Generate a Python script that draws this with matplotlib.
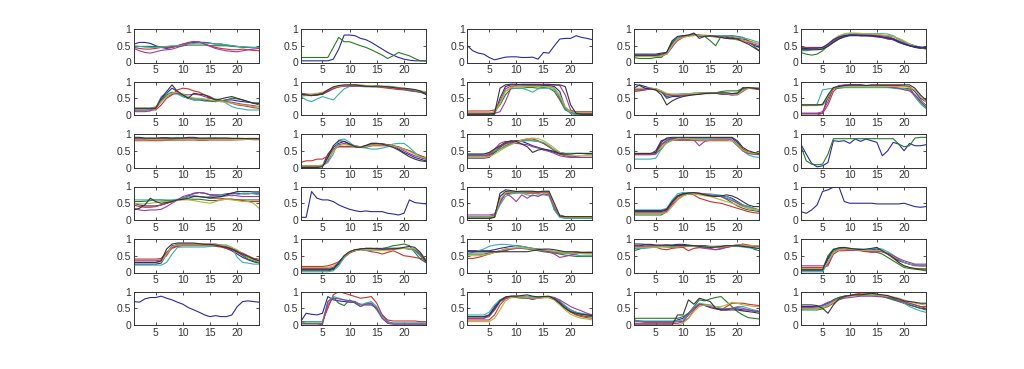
import matplotlib
matplotlib.use('Agg')
import matplotlib.pyplot as plt

x = list(range(1, 25))

# matlab default colour order
colors = ['#2a2a9a', '#2a7a2a', '#c83232', '#3aaeb0', '#a03ca0', '#b4b43c', '#353535']

p11 = [
    [0.55,0.6,0.6,0.57,0.5,0.45,0.42,0.45,0.5,0.55,0.57,0.6,0.6,0.6,0.58,0.55,0.55,0.52,0.5,0.48,0.46,0.45,0.44,0.45],
    [0.48,0.48,0.48,0.48,0.48,0.47,0.47,0.48,0.48,0.5,0.52,0.52,0.52,0.52,0.5,0.5,0.5,0.5,0.48,0.47,0.46,0.45,0.45,0.45],
    [0.45,0.42,0.4,0.4,0.42,0.45,0.45,0.45,0.5,0.55,0.6,0.63,0.6,0.55,0.5,0.45,0.42,0.4,0.38,0.38,0.4,0.38,0.36,0.35],
    [0.5,0.48,0.46,0.45,0.45,0.46,0.48,0.5,0.5,0.52,0.55,0.57,0.58,0.58,0.57,0.55,0.55,0.53,0.5,0.48,0.47,0.46,0.45,0.45],
    [0.42,0.35,0.3,0.28,0.32,0.36,0.38,0.4,0.45,0.5,0.58,0.62,0.62,0.55,0.48,0.42,0.38,0.35,0.33,0.32,0.35,0.38,0.4,0.42],
]
p12 = [
    [0.05,0.05,0.05,0.05,0.05,0.05,0.1,0.4,0.82,0.82,0.8,0.72,0.68,0.6,0.5,0.4,0.3,0.22,0.15,0.1,0.07,0.05,0.05,0.05],
    [0.15,0.15,0.15,0.15,0.15,0.15,0.45,0.75,0.62,0.62,0.56,0.5,0.45,0.38,0.3,0.22,0.12,0.2,0.3,0.25,0.2,0.12,0.05,0.05],
]
p13 = [
    [0.5,0.35,0.28,0.25,0.15,0.08,0.12,0.16,0.17,0.17,0.15,0.15,0.16,0.1,0.3,0.28,0.5,0.7,0.72,0.72,0.8,0.75,0.72,0.68],
]
p14 = [
    [0.25,0.25,0.25,0.25,0.25,0.28,0.3,0.6,0.75,0.78,0.8,0.85,0.82,0.8,0.78,0.78,0.76,0.75,0.72,0.7,0.65,0.6,0.52,0.45],
    [0.15,0.12,0.12,0.12,0.15,0.15,0.3,0.55,0.7,0.78,0.8,0.85,0.78,0.78,0.65,0.5,0.78,0.8,0.8,0.78,0.75,0.65,0.5,0.35],
    [0.2,0.2,0.2,0.2,0.2,0.2,0.25,0.5,0.65,0.75,0.8,0.82,0.8,0.8,0.8,0.8,0.8,0.78,0.75,0.72,0.7,0.65,0.6,0.55],
    [0.2,0.2,0.18,0.18,0.18,0.2,0.3,0.5,0.75,0.8,0.82,0.82,0.8,0.8,0.8,0.8,0.8,0.8,0.78,0.76,0.74,0.7,0.65,0.6],
    [0.22,0.2,0.2,0.2,0.2,0.22,0.25,0.45,0.7,0.78,0.8,0.82,0.8,0.78,0.78,0.76,0.75,0.72,0.7,0.68,0.65,0.6,0.55,0.5],
    [0.18,0.18,0.18,0.18,0.18,0.2,0.25,0.5,0.7,0.75,0.78,0.8,0.82,0.82,0.8,0.78,0.75,0.72,0.7,0.68,0.65,0.62,0.6,0.55],
    [0.22,0.22,0.22,0.22,0.22,0.25,0.3,0.65,0.78,0.8,0.82,0.88,0.72,0.78,0.8,0.78,0.75,0.72,0.72,0.7,0.62,0.55,0.45,0.35],
]
p15 = [
    [0.4,0.4,0.4,0.4,0.42,0.5,0.62,0.72,0.8,0.82,0.82,0.82,0.82,0.8,0.78,0.75,0.7,0.68,0.6,0.55,0.5,0.45,0.42,0.42],
    [0.3,0.25,0.22,0.25,0.35,0.5,0.65,0.75,0.8,0.82,0.83,0.82,0.82,0.82,0.82,0.8,0.8,0.78,0.7,0.62,0.55,0.5,0.45,0.4],
    [0.45,0.45,0.45,0.45,0.45,0.5,0.6,0.7,0.78,0.82,0.85,0.85,0.85,0.83,0.82,0.8,0.78,0.72,0.65,0.58,0.52,0.48,0.45,0.45],
    [0.35,0.35,0.38,0.4,0.42,0.55,0.68,0.78,0.84,0.86,0.86,0.86,0.86,0.86,0.86,0.86,0.85,0.8,0.7,0.62,0.55,0.5,0.45,0.42],
    [0.42,0.42,0.42,0.42,0.45,0.52,0.62,0.72,0.78,0.82,0.82,0.8,0.8,0.78,0.76,0.74,0.72,0.68,0.62,0.58,0.52,0.48,0.45,0.42],
    [0.4,0.4,0.4,0.4,0.45,0.55,0.7,0.8,0.86,0.88,0.88,0.87,0.86,0.85,0.84,0.82,0.8,0.78,0.72,0.65,0.55,0.5,0.45,0.4],
    [0.38,0.38,0.38,0.38,0.4,0.48,0.6,0.7,0.76,0.8,0.8,0.8,0.8,0.8,0.78,0.76,0.74,0.7,0.62,0.55,0.5,0.46,0.44,0.42],
    [0.42,0.42,0.43,0.43,0.45,0.55,0.68,0.76,0.8,0.82,0.82,0.8,0.8,0.8,0.78,0.76,0.73,0.7,0.62,0.55,0.5,0.48,0.46,0.45],
]

p21 = [
    [0.2,0.2,0.2,0.2,0.22,0.45,0.65,0.8,0.7,0.6,0.5,0.45,0.45,0.42,0.42,0.4,0.42,0.45,0.45,0.42,0.4,0.38,0.36,0.35],
    [0.15,0.15,0.15,0.18,0.2,0.4,0.6,0.68,0.65,0.55,0.5,0.5,0.48,0.45,0.42,0.4,0.42,0.45,0.5,0.48,0.45,0.4,0.35,0.3],
    [0.15,0.15,0.15,0.15,0.15,0.3,0.5,0.6,0.75,0.8,0.78,0.72,0.68,0.6,0.55,0.45,0.42,0.4,0.35,0.3,0.28,0.25,0.22,0.2],
    [0.15,0.15,0.15,0.15,0.2,0.55,0.65,0.65,0.62,0.55,0.5,0.45,0.45,0.45,0.5,0.48,0.45,0.35,0.25,0.2,0.18,0.15,0.15,0.15],
    [0.1,0.1,0.1,0.12,0.25,0.4,0.55,0.62,0.65,0.62,0.6,0.62,0.6,0.55,0.5,0.45,0.4,0.4,0.38,0.35,0.32,0.3,0.28,0.25],
    [0.18,0.18,0.18,0.2,0.25,0.4,0.55,0.65,0.68,0.62,0.55,0.5,0.5,0.48,0.45,0.42,0.4,0.38,0.35,0.32,0.3,0.28,0.25,0.25],
    [0.2,0.2,0.2,0.2,0.2,0.5,0.7,0.9,0.7,0.6,0.5,0.65,0.62,0.6,0.52,0.45,0.48,0.52,0.55,0.5,0.45,0.4,0.35,0.35],
]
p22 = [
    [0.62,0.6,0.58,0.6,0.62,0.7,0.8,0.85,0.88,0.88,0.88,0.87,0.86,0.85,0.85,0.84,0.83,0.82,0.8,0.78,0.76,0.72,0.68,0.65],
    [0.6,0.58,0.58,0.6,0.62,0.72,0.82,0.86,0.88,0.88,0.87,0.86,0.86,0.86,0.86,0.85,0.85,0.82,0.8,0.76,0.72,0.7,0.68,0.62],
    [0.65,0.62,0.6,0.62,0.65,0.7,0.78,0.84,0.86,0.88,0.9,0.88,0.86,0.85,0.84,0.82,0.8,0.78,0.76,0.75,0.75,0.72,0.7,0.68],
    [0.55,0.45,0.4,0.48,0.55,0.5,0.45,0.62,0.78,0.85,0.86,0.85,0.84,0.84,0.84,0.85,0.86,0.85,0.82,0.78,0.75,0.72,0.7,0.68],
    [0.65,0.62,0.62,0.62,0.64,0.72,0.8,0.84,0.86,0.86,0.86,0.86,0.86,0.86,0.86,0.85,0.84,0.82,0.8,0.78,0.75,0.72,0.7,0.66],
    [0.55,0.58,0.62,0.65,0.68,0.75,0.82,0.86,0.88,0.9,0.9,0.9,0.88,0.88,0.86,0.85,0.84,0.82,0.8,0.8,0.78,0.75,0.72,0.7],
    [0.62,0.6,0.58,0.6,0.64,0.75,0.84,0.88,0.9,0.9,0.9,0.88,0.86,0.85,0.86,0.86,0.84,0.82,0.8,0.8,0.78,0.76,0.72,0.62],
]
p23 = [
    [0.0,0.0,0.0,0.0,0.0,0.02,0.5,0.85,0.9,0.9,0.9,0.9,0.9,0.9,0.88,0.88,0.85,0.7,0.2,0.05,0.02,0.02,0.02,0.02],
    [0.05,0.05,0.05,0.05,0.05,0.1,0.3,0.6,0.78,0.8,0.8,0.82,0.82,0.8,0.82,0.8,0.7,0.45,0.15,0.08,0.05,0.05,0.05,0.05],
    [0.12,0.12,0.12,0.12,0.12,0.15,0.4,0.78,0.86,0.86,0.85,0.86,0.86,0.86,0.86,0.85,0.8,0.5,0.2,0.12,0.1,0.1,0.1,0.1],
    [0.02,0.02,0.02,0.02,0.02,0.05,0.35,0.72,0.8,0.8,0.8,0.75,0.68,0.78,0.8,0.8,0.75,0.55,0.2,0.05,0.02,0.02,0.02,0.02],
    [0.05,0.05,0.05,0.05,0.05,0.05,0.1,0.4,0.8,0.9,0.92,0.92,0.92,0.92,0.92,0.92,0.9,0.88,0.6,0.15,0.08,0.05,0.05,0.05],
    [0.08,0.08,0.08,0.08,0.08,0.08,0.35,0.7,0.82,0.85,0.85,0.85,0.85,0.86,0.85,0.85,0.8,0.6,0.25,0.1,0.08,0.08,0.08,0.08],
    [0.02,0.02,0.02,0.02,0.02,0.05,0.8,0.9,0.92,0.92,0.9,0.9,0.9,0.9,0.9,0.9,0.9,0.9,0.85,0.3,0.05,0.02,0.02,0.02],
]
p24 = [
    [0.8,0.9,0.85,0.8,0.78,0.7,0.5,0.55,0.55,0.58,0.6,0.62,0.65,0.65,0.65,0.65,0.62,0.62,0.6,0.62,0.82,0.82,0.8,0.8],
    [0.75,0.75,0.78,0.78,0.75,0.68,0.55,0.58,0.6,0.62,0.62,0.65,0.65,0.66,0.66,0.66,0.7,0.72,0.72,0.72,0.8,0.82,0.8,0.78],
    [0.7,0.72,0.75,0.78,0.75,0.7,0.6,0.6,0.6,0.6,0.62,0.62,0.62,0.64,0.64,0.65,0.65,0.64,0.62,0.62,0.75,0.8,0.78,0.76],
    [0.78,0.78,0.78,0.8,0.78,0.72,0.6,0.62,0.62,0.64,0.64,0.65,0.66,0.66,0.65,0.65,0.66,0.65,0.64,0.66,0.8,0.82,0.82,0.8],
    [0.75,0.75,0.75,0.78,0.78,0.7,0.62,0.6,0.58,0.58,0.6,0.62,0.64,0.65,0.65,0.65,0.64,0.62,0.6,0.6,0.7,0.8,0.8,0.78],
    [0.8,0.8,0.8,0.8,0.78,0.72,0.65,0.62,0.62,0.62,0.63,0.64,0.65,0.65,0.65,0.65,0.65,0.64,0.62,0.62,0.72,0.8,0.8,0.78],
    [0.92,0.88,0.8,0.78,0.75,0.6,0.3,0.42,0.5,0.55,0.58,0.6,0.62,0.64,0.65,0.65,0.66,0.66,0.64,0.65,0.8,0.82,0.8,0.78],
]
p25 = [
    [0.05,0.05,0.05,0.05,0.05,0.55,0.8,0.82,0.84,0.85,0.85,0.86,0.86,0.86,0.86,0.86,0.86,0.86,0.86,0.86,0.85,0.7,0.5,0.4],
    [0.3,0.3,0.3,0.3,0.3,0.5,0.78,0.8,0.82,0.82,0.82,0.82,0.82,0.82,0.82,0.82,0.82,0.82,0.8,0.8,0.78,0.6,0.4,0.25],
    [0.0,0.0,0.0,0.0,0.05,0.3,0.7,0.85,0.88,0.88,0.88,0.88,0.88,0.88,0.88,0.88,0.88,0.88,0.88,0.86,0.85,0.55,0.35,0.2],
    [0.3,0.28,0.3,0.32,0.75,0.78,0.8,0.82,0.82,0.82,0.82,0.82,0.82,0.82,0.82,0.82,0.82,0.8,0.78,0.78,0.75,0.55,0.35,0.2],
    [0.05,0.05,0.05,0.05,0.1,0.4,0.8,0.88,0.9,0.9,0.9,0.9,0.88,0.86,0.85,0.85,0.84,0.82,0.8,0.75,0.72,0.6,0.45,0.3],
    [0.28,0.28,0.28,0.28,0.3,0.55,0.8,0.84,0.85,0.85,0.85,0.85,0.85,0.85,0.85,0.85,0.85,0.85,0.85,0.85,0.82,0.75,0.55,0.4],
    [0.3,0.3,0.3,0.3,0.32,0.6,0.82,0.85,0.88,0.9,0.9,0.9,0.88,0.9,0.9,0.9,0.9,0.9,0.9,0.9,0.9,0.8,0.6,0.45],
]

p31 = [
    [0.85,0.86,0.86,0.87,0.86,0.86,0.87,0.86,0.86,0.87,0.87,0.86,0.86,0.86,0.87,0.86,0.86,0.86,0.86,0.87,0.86,0.86,0.86,0.86],
    [0.82,0.82,0.83,0.82,0.82,0.84,0.83,0.84,0.83,0.83,0.84,0.84,0.83,0.83,0.84,0.84,0.85,0.84,0.84,0.83,0.84,0.84,0.84,0.84],
    [0.8,0.8,0.8,0.8,0.8,0.8,0.81,0.81,0.82,0.82,0.82,0.82,0.81,0.81,0.82,0.82,0.82,0.82,0.82,0.83,0.83,0.84,0.83,0.83],
    [0.88,0.88,0.87,0.86,0.86,0.85,0.86,0.88,0.89,0.88,0.86,0.85,0.85,0.86,0.87,0.88,0.86,0.84,0.85,0.86,0.85,0.85,0.85,0.85],
    [0.86,0.86,0.85,0.85,0.86,0.87,0.87,0.86,0.85,0.85,0.86,0.86,0.85,0.86,0.86,0.86,0.87,0.87,0.87,0.86,0.86,0.87,0.87,0.87],
    [0.82,0.82,0.82,0.83,0.83,0.83,0.82,0.82,0.83,0.84,0.84,0.83,0.83,0.83,0.84,0.84,0.84,0.83,0.83,0.84,0.84,0.84,0.84,0.84],
    [0.9,0.9,0.88,0.88,0.88,0.89,0.89,0.88,0.88,0.88,0.9,0.9,0.88,0.88,0.88,0.88,0.88,0.88,0.87,0.87,0.87,0.86,0.86,0.86],
]
p32 = [
    [0.02,0.02,0.02,0.02,0.05,0.4,0.6,0.72,0.78,0.7,0.65,0.62,0.65,0.72,0.72,0.7,0.68,0.65,0.55,0.45,0.38,0.3,0.25,0.2],
    [0.05,0.05,0.05,0.05,0.05,0.3,0.55,0.62,0.62,0.62,0.62,0.6,0.6,0.65,0.68,0.7,0.68,0.65,0.62,0.55,0.5,0.42,0.35,0.3],
    [0.15,0.2,0.2,0.25,0.25,0.35,0.55,0.62,0.62,0.62,0.62,0.6,0.62,0.65,0.65,0.65,0.65,0.62,0.6,0.55,0.5,0.42,0.35,0.28],
    [0.02,0.0,0.0,0.0,0.05,0.15,0.4,0.82,0.85,0.75,0.62,0.6,0.58,0.55,0.55,0.58,0.62,0.7,0.72,0.72,0.6,0.45,0.3,0.25],
    [0.05,0.05,0.05,0.05,0.05,0.2,0.5,0.68,0.72,0.68,0.62,0.6,0.62,0.68,0.7,0.7,0.68,0.65,0.6,0.5,0.42,0.35,0.3,0.25],
    [0.05,0.05,0.05,0.05,0.08,0.25,0.5,0.65,0.68,0.66,0.64,0.62,0.62,0.66,0.68,0.68,0.66,0.64,0.6,0.55,0.48,0.4,0.32,0.28],
    [0.0,0.0,0.0,0.0,0.02,0.3,0.65,0.8,0.78,0.7,0.62,0.6,0.66,0.72,0.72,0.7,0.65,0.6,0.52,0.42,0.32,0.25,0.2,0.18],
]
p33 = [
    [0.28,0.28,0.28,0.28,0.3,0.45,0.6,0.72,0.78,0.8,0.78,0.72,0.65,0.6,0.55,0.5,0.45,0.4,0.38,0.35,0.32,0.3,0.3,0.3],
    [0.35,0.35,0.35,0.35,0.38,0.45,0.55,0.65,0.72,0.78,0.8,0.82,0.8,0.78,0.72,0.62,0.52,0.45,0.42,0.42,0.42,0.42,0.4,0.4],
    [0.3,0.3,0.3,0.3,0.35,0.5,0.62,0.7,0.75,0.78,0.82,0.85,0.85,0.8,0.72,0.62,0.5,0.4,0.35,0.32,0.3,0.3,0.3,0.3],
    [0.4,0.4,0.4,0.4,0.42,0.5,0.55,0.62,0.7,0.75,0.78,0.8,0.8,0.78,0.75,0.65,0.52,0.45,0.42,0.42,0.42,0.42,0.42,0.42],
    [0.35,0.35,0.35,0.35,0.4,0.55,0.72,0.78,0.75,0.72,0.7,0.68,0.62,0.58,0.52,0.48,0.42,0.35,0.32,0.3,0.3,0.3,0.3,0.3],
    [0.3,0.3,0.3,0.3,0.32,0.4,0.5,0.6,0.68,0.75,0.82,0.86,0.88,0.86,0.8,0.7,0.58,0.45,0.38,0.35,0.35,0.35,0.35,0.35],
    [0.4,0.4,0.4,0.4,0.45,0.55,0.65,0.75,0.8,0.78,0.7,0.62,0.45,0.52,0.55,0.52,0.48,0.42,0.4,0.4,0.42,0.42,0.42,0.42],
]
p34 = [
    [0.4,0.4,0.4,0.4,0.5,0.8,0.85,0.86,0.86,0.88,0.88,0.88,0.88,0.88,0.88,0.88,0.88,0.88,0.88,0.75,0.55,0.45,0.42,0.4],
    [0.4,0.4,0.4,0.4,0.42,0.55,0.75,0.82,0.82,0.82,0.82,0.82,0.82,0.82,0.82,0.82,0.82,0.82,0.8,0.65,0.5,0.42,0.4,0.38],
    [0.4,0.4,0.4,0.4,0.42,0.7,0.8,0.82,0.82,0.82,0.82,0.82,0.8,0.8,0.8,0.8,0.8,0.8,0.8,0.7,0.55,0.45,0.42,0.42],
    [0.25,0.25,0.25,0.25,0.28,0.55,0.8,0.82,0.84,0.84,0.84,0.84,0.84,0.84,0.84,0.84,0.84,0.84,0.82,0.7,0.5,0.38,0.32,0.3],
    [0.38,0.38,0.38,0.38,0.4,0.65,0.82,0.85,0.85,0.85,0.84,0.82,0.65,0.78,0.82,0.84,0.84,0.84,0.82,0.68,0.5,0.42,0.4,0.4],
    [0.42,0.42,0.42,0.42,0.45,0.6,0.72,0.8,0.86,0.88,0.86,0.84,0.82,0.82,0.82,0.82,0.82,0.82,0.8,0.68,0.52,0.45,0.42,0.42],
    [0.42,0.42,0.42,0.42,0.45,0.75,0.88,0.9,0.9,0.9,0.9,0.9,0.9,0.9,0.9,0.9,0.9,0.9,0.9,0.8,0.6,0.5,0.45,0.42],
]
p35 = [
    [0.7,0.4,0.12,0.02,0.05,0.15,0.8,0.78,0.8,0.72,0.85,0.78,0.85,0.8,0.75,0.35,0.5,0.75,0.7,0.5,0.72,0.65,0.65,0.68],
    [0.65,0.2,0.1,0.08,0.1,0.4,0.86,0.86,0.86,0.86,0.86,0.86,0.86,0.86,0.86,0.86,0.86,0.86,0.7,0.62,0.65,0.88,0.9,0.9],
]

p41 = [
    [0.5,0.45,0.42,0.42,0.42,0.45,0.5,0.55,0.6,0.65,0.72,0.8,0.82,0.8,0.75,0.75,0.75,0.78,0.8,0.8,0.78,0.78,0.8,0.8],
    [0.55,0.55,0.56,0.58,0.6,0.6,0.58,0.58,0.6,0.62,0.62,0.62,0.62,0.6,0.58,0.58,0.6,0.62,0.62,0.6,0.6,0.6,0.6,0.6],
    [0.45,0.4,0.38,0.38,0.4,0.45,0.5,0.55,0.6,0.65,0.7,0.72,0.7,0.68,0.65,0.65,0.65,0.62,0.62,0.6,0.58,0.55,0.55,0.55],
    [0.6,0.6,0.6,0.6,0.6,0.6,0.6,0.6,0.62,0.65,0.7,0.72,0.7,0.68,0.7,0.72,0.75,0.75,0.72,0.75,0.8,0.8,0.78,0.75],
    [0.35,0.3,0.28,0.3,0.3,0.32,0.4,0.5,0.6,0.7,0.75,0.78,0.82,0.8,0.75,0.72,0.7,0.72,0.75,0.72,0.7,0.7,0.7,0.7],
    [0.5,0.48,0.48,0.5,0.52,0.55,0.55,0.55,0.58,0.6,0.6,0.58,0.55,0.52,0.5,0.55,0.6,0.62,0.6,0.58,0.55,0.55,0.5,0.35],
    [0.3,0.35,0.45,0.65,0.55,0.5,0.52,0.55,0.6,0.62,0.65,0.7,0.7,0.68,0.66,0.68,0.7,0.75,0.8,0.85,0.85,0.85,0.84,0.84],
]
p42 = [
    [0.08,0.08,0.85,0.65,0.6,0.6,0.55,0.45,0.38,0.32,0.28,0.25,0.27,0.25,0.25,0.25,0.2,0.18,0.15,0.2,0.6,0.52,0.5,0.48],
]
p43 = [
    [0.05,0.05,0.05,0.05,0.05,0.1,0.7,0.85,0.85,0.85,0.85,0.85,0.85,0.85,0.85,0.85,0.3,0.1,0.1,0.1,0.1,0.1,0.1,0.1],
    [0.05,0.05,0.05,0.05,0.05,0.08,0.55,0.78,0.8,0.82,0.82,0.82,0.82,0.82,0.82,0.82,0.4,0.1,0.05,0.05,0.05,0.05,0.05,0.05],
    [0.1,0.1,0.1,0.1,0.1,0.15,0.6,0.8,0.82,0.82,0.82,0.8,0.8,0.8,0.82,0.8,0.35,0.12,0.1,0.1,0.1,0.1,0.1,0.1],
    [0.1,0.1,0.1,0.1,0.1,0.12,0.45,0.7,0.78,0.8,0.8,0.75,0.72,0.75,0.75,0.72,0.3,0.08,0.05,0.05,0.05,0.05,0.05,0.05],
    [0.15,0.15,0.15,0.15,0.15,0.18,0.5,0.8,0.7,0.55,0.75,0.65,0.75,0.7,0.78,0.75,0.4,0.15,0.1,0.1,0.1,0.1,0.1,0.1],
    [0.08,0.08,0.08,0.08,0.08,0.1,0.6,0.82,0.84,0.84,0.84,0.84,0.84,0.84,0.84,0.84,0.45,0.12,0.08,0.08,0.08,0.08,0.08,0.08],
    [0.05,0.05,0.05,0.05,0.05,0.08,0.8,0.9,0.88,0.85,0.86,0.86,0.86,0.84,0.86,0.86,0.5,0.12,0.1,0.1,0.1,0.1,0.1,0.1],
]
p44 = [
    [0.25,0.25,0.25,0.25,0.25,0.25,0.3,0.55,0.7,0.78,0.8,0.8,0.78,0.75,0.72,0.72,0.72,0.7,0.65,0.55,0.45,0.4,0.35,0.3],
    [0.15,0.15,0.15,0.15,0.15,0.15,0.25,0.5,0.72,0.8,0.82,0.8,0.78,0.75,0.72,0.72,0.7,0.62,0.52,0.42,0.35,0.3,0.28,0.25],
    [0.2,0.2,0.2,0.2,0.2,0.2,0.25,0.5,0.68,0.75,0.78,0.75,0.65,0.6,0.55,0.52,0.5,0.45,0.4,0.35,0.3,0.25,0.22,0.2],
    [0.3,0.3,0.3,0.3,0.3,0.3,0.35,0.6,0.78,0.82,0.8,0.78,0.78,0.78,0.78,0.76,0.74,0.7,0.62,0.52,0.45,0.4,0.35,0.3],
    [0.22,0.22,0.22,0.22,0.22,0.22,0.28,0.45,0.62,0.72,0.78,0.8,0.8,0.78,0.75,0.72,0.7,0.65,0.58,0.5,0.42,0.35,0.32,0.3],
    [0.2,0.2,0.2,0.2,0.2,0.2,0.22,0.4,0.6,0.72,0.78,0.78,0.75,0.72,0.7,0.65,0.6,0.55,0.5,0.45,0.4,0.35,0.32,0.3],
    [0.28,0.28,0.28,0.28,0.28,0.28,0.32,0.55,0.72,0.78,0.8,0.82,0.8,0.75,0.72,0.7,0.72,0.75,0.72,0.65,0.55,0.45,0.4,0.4],
]
p45 = [
    [0.25,0.2,0.3,0.45,0.85,0.9,0.98,1.0,0.55,0.5,0.5,0.5,0.5,0.5,0.48,0.48,0.48,0.48,0.48,0.5,0.45,0.4,0.38,0.4],
]

p51 = [
    [0.25,0.25,0.25,0.25,0.25,0.28,0.55,0.8,0.82,0.82,0.82,0.82,0.82,0.82,0.82,0.8,0.78,0.72,0.65,0.55,0.45,0.38,0.32,0.28],
    [0.3,0.3,0.3,0.3,0.3,0.35,0.6,0.75,0.8,0.82,0.82,0.82,0.82,0.82,0.82,0.82,0.8,0.78,0.72,0.62,0.5,0.4,0.35,0.3],
    [0.4,0.4,0.4,0.4,0.4,0.42,0.6,0.72,0.78,0.8,0.8,0.8,0.8,0.8,0.8,0.78,0.76,0.72,0.68,0.6,0.52,0.45,0.42,0.4],
    [0.22,0.22,0.22,0.22,0.22,0.22,0.3,0.55,0.75,0.76,0.76,0.76,0.76,0.76,0.78,0.8,0.82,0.82,0.75,0.45,0.3,0.28,0.25,0.25],
    [0.35,0.35,0.35,0.35,0.35,0.38,0.5,0.75,0.85,0.85,0.85,0.85,0.85,0.85,0.85,0.85,0.82,0.78,0.72,0.65,0.58,0.5,0.42,0.35],
    [0.3,0.3,0.3,0.3,0.3,0.32,0.55,0.78,0.82,0.82,0.82,0.82,0.82,0.82,0.82,0.82,0.82,0.8,0.75,0.68,0.55,0.45,0.38,0.32],
    [0.3,0.3,0.3,0.3,0.3,0.35,0.7,0.85,0.88,0.88,0.88,0.88,0.86,0.84,0.84,0.82,0.78,0.75,0.7,0.62,0.55,0.48,0.4,0.35],
]
p52 = [
    [0.1,0.1,0.1,0.1,0.1,0.1,0.12,0.25,0.45,0.6,0.65,0.7,0.72,0.72,0.7,0.7,0.72,0.72,0.72,0.72,0.7,0.68,0.5,0.3],
    [0.05,0.05,0.05,0.05,0.05,0.05,0.08,0.3,0.5,0.62,0.68,0.7,0.7,0.7,0.72,0.72,0.75,0.8,0.82,0.85,0.8,0.6,0.4,0.3],
    [0.18,0.18,0.18,0.18,0.18,0.2,0.25,0.32,0.45,0.58,0.65,0.68,0.66,0.62,0.6,0.55,0.6,0.65,0.58,0.5,0.48,0.45,0.42,0.4],
    [0.02,0.02,0.02,0.02,0.02,0.02,0.05,0.2,0.45,0.62,0.68,0.68,0.66,0.66,0.68,0.7,0.72,0.72,0.72,0.72,0.7,0.65,0.5,0.35],
    [0.12,0.12,0.12,0.12,0.12,0.12,0.15,0.3,0.48,0.6,0.66,0.7,0.7,0.7,0.7,0.7,0.7,0.72,0.72,0.72,0.72,0.7,0.55,0.35],
    [0.15,0.15,0.15,0.15,0.15,0.15,0.2,0.3,0.48,0.6,0.66,0.68,0.68,0.68,0.66,0.65,0.65,0.68,0.7,0.72,0.72,0.7,0.6,0.4],
    [0.08,0.08,0.08,0.08,0.08,0.08,0.1,0.3,0.5,0.62,0.68,0.7,0.72,0.72,0.72,0.7,0.7,0.7,0.72,0.75,0.78,0.75,0.6,0.35],
]
p53 = [
    [0.65,0.65,0.65,0.65,0.65,0.68,0.72,0.75,0.78,0.8,0.78,0.75,0.72,0.7,0.68,0.65,0.62,0.6,0.6,0.6,0.6,0.6,0.6,0.6],
    [0.55,0.55,0.55,0.55,0.58,0.6,0.62,0.65,0.7,0.72,0.72,0.7,0.68,0.65,0.62,0.6,0.58,0.55,0.52,0.5,0.48,0.48,0.48,0.48],
    [0.42,0.42,0.45,0.5,0.55,0.6,0.65,0.7,0.72,0.72,0.72,0.72,0.7,0.68,0.65,0.62,0.6,0.58,0.58,0.58,0.58,0.58,0.58,0.58],
    [0.55,0.6,0.65,0.7,0.78,0.82,0.84,0.84,0.82,0.8,0.78,0.75,0.72,0.7,0.68,0.65,0.62,0.6,0.58,0.55,0.52,0.5,0.5,0.5],
    [0.62,0.62,0.62,0.62,0.62,0.62,0.64,0.66,0.7,0.72,0.72,0.72,0.7,0.68,0.65,0.62,0.55,0.45,0.48,0.52,0.55,0.58,0.6,0.6],
    [0.5,0.5,0.5,0.52,0.55,0.6,0.65,0.7,0.72,0.74,0.74,0.72,0.7,0.68,0.68,0.66,0.64,0.62,0.6,0.6,0.58,0.56,0.55,0.55],
    [0.62,0.62,0.62,0.62,0.62,0.62,0.62,0.62,0.62,0.62,0.62,0.62,0.65,0.68,0.7,0.7,0.68,0.65,0.62,0.62,0.62,0.6,0.6,0.6],
]
p54 = [
    [0.8,0.8,0.82,0.82,0.8,0.8,0.82,0.82,0.84,0.84,0.82,0.8,0.8,0.8,0.78,0.78,0.78,0.8,0.8,0.82,0.82,0.8,0.8,0.78],
    [0.65,0.7,0.75,0.78,0.8,0.78,0.76,0.75,0.75,0.76,0.78,0.8,0.8,0.78,0.75,0.75,0.75,0.76,0.78,0.8,0.8,0.78,0.7,0.65],
    [0.72,0.74,0.75,0.76,0.76,0.7,0.68,0.72,0.74,0.75,0.65,0.72,0.74,0.74,0.72,0.68,0.72,0.75,0.78,0.8,0.85,0.82,0.8,0.78],
    [0.7,0.72,0.72,0.74,0.76,0.78,0.78,0.78,0.8,0.8,0.8,0.78,0.76,0.75,0.76,0.78,0.78,0.78,0.78,0.78,0.76,0.74,0.72,0.72],
    [0.78,0.78,0.78,0.8,0.8,0.8,0.8,0.8,0.8,0.8,0.8,0.78,0.75,0.72,0.7,0.68,0.7,0.75,0.8,0.82,0.82,0.8,0.78,0.78],
    [0.75,0.75,0.75,0.76,0.76,0.76,0.76,0.76,0.76,0.78,0.78,0.78,0.78,0.76,0.76,0.76,0.76,0.78,0.8,0.82,0.82,0.8,0.8,0.8],
    [0.85,0.85,0.84,0.84,0.82,0.82,0.82,0.8,0.8,0.8,0.8,0.8,0.78,0.76,0.75,0.76,0.78,0.8,0.8,0.8,0.78,0.76,0.74,0.72],
]
p55 = [
    [0.05,0.05,0.05,0.05,0.05,0.4,0.62,0.7,0.72,0.72,0.7,0.7,0.68,0.68,0.7,0.65,0.55,0.42,0.35,0.3,0.25,0.22,0.2,0.2],
    [0.1,0.1,0.1,0.1,0.1,0.5,0.7,0.72,0.72,0.7,0.68,0.66,0.65,0.62,0.6,0.55,0.45,0.35,0.25,0.15,0.12,0.1,0.08,0.05],
    [0.15,0.15,0.15,0.15,0.15,0.2,0.55,0.65,0.65,0.66,0.66,0.65,0.62,0.62,0.65,0.62,0.55,0.45,0.38,0.3,0.25,0.2,0.2,0.2],
    [0.02,0.02,0.02,0.02,0.02,0.3,0.65,0.72,0.74,0.72,0.7,0.68,0.68,0.7,0.72,0.7,0.62,0.52,0.4,0.3,0.25,0.22,0.22,0.22],
    [0.2,0.2,0.2,0.2,0.2,0.25,0.6,0.7,0.7,0.68,0.66,0.66,0.64,0.6,0.62,0.62,0.58,0.5,0.42,0.35,0.3,0.25,0.25,0.25],
    [0.12,0.12,0.12,0.12,0.12,0.3,0.6,0.68,0.7,0.7,0.68,0.66,0.66,0.65,0.66,0.65,0.55,0.42,0.3,0.2,0.15,0.12,0.12,0.12],
    [0.08,0.08,0.08,0.08,0.08,0.45,0.68,0.74,0.75,0.72,0.7,0.68,0.7,0.72,0.75,0.65,0.55,0.45,0.3,0.2,0.15,0.12,0.1,0.1],
]

p61 = [
    [0.7,0.68,0.78,0.82,0.82,0.86,0.8,0.75,0.68,0.62,0.52,0.45,0.38,0.3,0.25,0.28,0.25,0.25,0.3,0.55,0.7,0.72,0.7,0.68],
]
p62 = [
    [0.1,0.35,0.32,0.3,0.35,0.85,0.75,0.72,0.7,0.68,0.68,0.62,0.6,0.6,0.5,0.3,0.1,0.05,0.05,0.05,0.05,0.05,0.05,0.05],
    [0.05,0.05,0.05,0.05,0.05,0.6,0.82,0.65,0.58,0.75,0.65,0.55,0.65,0.65,0.5,0.2,0.06,0.05,0.05,0.05,0.05,0.05,0.05,0.05],
    [0.1,0.1,0.1,0.1,0.1,0.5,0.9,1.0,0.95,0.9,0.85,0.8,0.82,0.85,0.65,0.3,0.15,0.12,0.12,0.12,0.12,0.12,0.1,0.1],
    [0.05,0.1,0.1,0.1,0.1,0.7,0.85,0.8,0.75,0.72,0.7,0.6,0.65,0.7,0.55,0.25,0.08,0.05,0.05,0.05,0.05,0.05,0.05,0.05],
    [0.0,0.0,0.0,0.0,0.02,0.7,0.8,0.78,0.75,0.72,0.7,0.55,0.62,0.65,0.45,0.2,0.05,0.02,0.02,0.02,0.02,0.02,0.02,0.02],
]
p63 = [
    [0.2,0.2,0.2,0.2,0.3,0.55,0.75,0.82,0.85,0.85,0.85,0.82,0.8,0.82,0.85,0.85,0.8,0.7,0.55,0.45,0.38,0.32,0.3,0.3],
    [0.25,0.25,0.25,0.25,0.28,0.45,0.7,0.8,0.82,0.82,0.8,0.8,0.78,0.8,0.82,0.82,0.75,0.62,0.5,0.4,0.32,0.28,0.25,0.25],
    [0.15,0.15,0.15,0.15,0.15,0.3,0.6,0.78,0.84,0.84,0.84,0.82,0.8,0.8,0.82,0.82,0.78,0.65,0.5,0.38,0.3,0.25,0.22,0.2],
    [0.3,0.3,0.3,0.3,0.38,0.6,0.75,0.82,0.85,0.86,0.86,0.86,0.84,0.84,0.84,0.84,0.82,0.72,0.58,0.45,0.38,0.35,0.32,0.3],
    [0.2,0.2,0.2,0.2,0.25,0.45,0.7,0.82,0.86,0.86,0.84,0.8,0.76,0.8,0.85,0.85,0.82,0.75,0.65,0.55,0.48,0.42,0.35,0.3],
    [0.1,0.1,0.1,0.1,0.1,0.2,0.45,0.72,0.82,0.84,0.84,0.82,0.8,0.8,0.82,0.82,0.75,0.6,0.45,0.32,0.25,0.2,0.18,0.15],
    [0.25,0.25,0.25,0.25,0.3,0.5,0.72,0.84,0.86,0.86,0.88,0.9,0.86,0.84,0.85,0.86,0.78,0.65,0.5,0.4,0.35,0.32,0.3,0.28],
]
p64 = [
    [0.15,0.12,0.1,0.1,0.1,0.1,0.1,0.1,0.15,0.2,0.35,0.5,0.62,0.58,0.52,0.48,0.45,0.45,0.5,0.48,0.45,0.45,0.42,0.4],
    [0.2,0.2,0.2,0.2,0.2,0.2,0.2,0.2,0.2,0.25,0.35,0.55,0.75,0.72,0.78,0.82,0.85,0.7,0.55,0.4,0.3,0.22,0.2,0.18],
    [0.1,0.1,0.08,0.08,0.08,0.08,0.08,0.08,0.1,0.1,0.2,0.45,0.6,0.6,0.55,0.5,0.45,0.55,0.65,0.65,0.65,0.62,0.6,0.58],
    [0.12,0.12,0.12,0.12,0.12,0.12,0.12,0.12,0.12,0.15,0.3,0.55,0.65,0.62,0.6,0.55,0.5,0.48,0.5,0.55,0.55,0.5,0.45,0.42],
    [0.05,0.05,0.05,0.05,0.05,0.05,0.05,0.05,0.05,0.1,0.3,0.5,0.62,0.6,0.55,0.5,0.48,0.48,0.5,0.52,0.5,0.45,0.42,0.4],
    [0.0,0.0,0.0,0.0,0.0,0.0,0.0,0.0,0.0,0.05,0.2,0.4,0.55,0.6,0.58,0.55,0.55,0.6,0.68,0.65,0.6,0.58,0.55,0.55],
    [0.0,0.0,0.0,0.0,0.0,0.0,0.0,0.0,0.3,0.3,0.75,0.62,0.8,0.75,0.7,0.5,0.45,0.45,0.45,0.45,0.42,0.4,0.38,0.35],
]
p65 = [
    [0.55,0.55,0.55,0.55,0.58,0.65,0.75,0.82,0.86,0.88,0.88,0.9,0.9,0.9,0.88,0.86,0.82,0.78,0.72,0.65,0.6,0.55,0.5,0.48],
    [0.45,0.45,0.45,0.45,0.48,0.6,0.75,0.82,0.86,0.88,0.9,0.9,0.9,0.9,0.88,0.85,0.8,0.75,0.7,0.65,0.6,0.55,0.5,0.45],
    [0.5,0.5,0.5,0.5,0.5,0.55,0.65,0.75,0.82,0.88,0.92,0.95,0.95,0.95,0.92,0.88,0.85,0.8,0.75,0.7,0.65,0.6,0.55,0.5],
    [0.48,0.48,0.48,0.5,0.55,0.62,0.7,0.78,0.84,0.88,0.88,0.88,0.88,0.88,0.88,0.86,0.84,0.8,0.75,0.65,0.55,0.48,0.42,0.38],
    [0.52,0.52,0.52,0.54,0.6,0.68,0.72,0.76,0.8,0.82,0.84,0.86,0.86,0.86,0.85,0.84,0.82,0.8,0.72,0.68,0.65,0.6,0.55,0.55],
    [0.48,0.48,0.48,0.48,0.5,0.58,0.68,0.78,0.84,0.86,0.88,0.9,0.9,0.9,0.9,0.88,0.86,0.84,0.8,0.75,0.7,0.65,0.62,0.6],
    [0.6,0.6,0.6,0.58,0.5,0.35,0.6,0.78,0.85,0.88,0.9,0.9,0.92,0.95,0.92,0.9,0.88,0.82,0.78,0.72,0.7,0.68,0.65,0.65],
]

panels = [
    [p11, p12, p13, p14, p15],
    [p21, p22, p23, p24, p25],
    [p31, p32, p33, p34, p35],
    [p41, p42, p43, p44, p45],
    [p51, p52, p53, p54, p55],
    [p61, p62, p63, p64, p65],
]

plt.rcParams['font.family'] = ['Liberation Sans', 'DejaVu Sans']

W, H = 1024, 369
fig = plt.figure(figsize=(W / 100, H / 100), dpi=100)
fig.patch.set_facecolor('white')

col_left = [134, 300.7, 467.4, 634.1, 800.8]
ax_w = 125
ax_h = 33.5

for r in range(6):
    top = 29 + r * 52.5
    for c in range(5):
        ax = fig.add_axes([col_left[c] / W, 1 - (top + ax_h) / H, ax_w / W, ax_h / H])
        for i, s in enumerate(panels[r][c]):
            ax.plot(x, s, color=colors[i % 7], lw=0.8)
        ax.set_xlim(1, 24)
        ax.set_ylim(0, 1)
        ax.set_xticks([5, 10, 15, 20])
        ax.set_yticks([0, 0.5, 1])
        ax.set_yticklabels(['0', '0.5', '1'])
        ax.tick_params(direction='in', length=2, width=0.6, labelsize=7.5,
                       colors='#333333', top=True, right=True, pad=2)
        for sp in ax.spines.values():
            sp.set_color('#333333')
            sp.set_linewidth(0.7)

fig.savefig('out.png', dpi=100, facecolor='white')
